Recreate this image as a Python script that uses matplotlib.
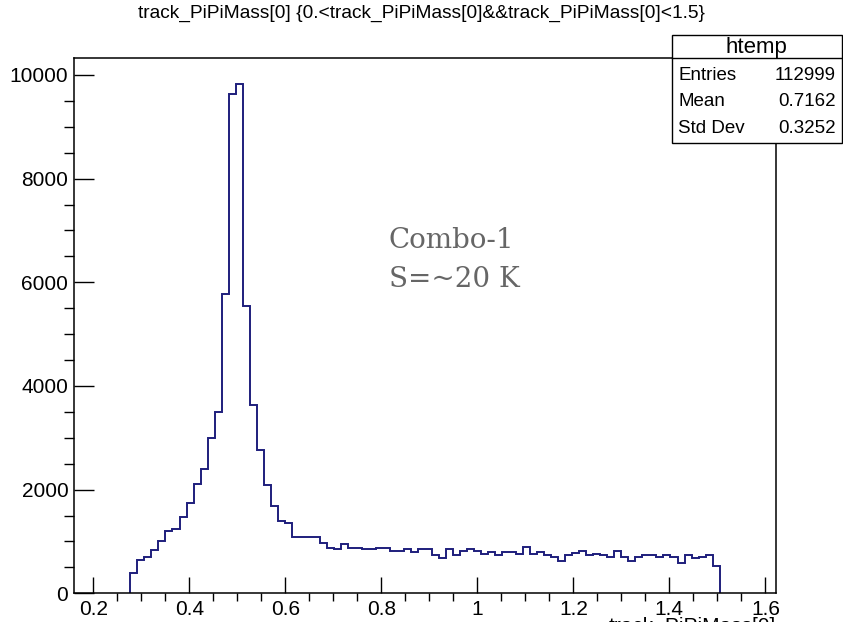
import matplotlib
matplotlib.use("Agg")
import matplotlib.pyplot as plt
import numpy as np
from matplotlib.ticker import MultipleLocator
from matplotlib.patches import Rectangle
from matplotlib.lines import Line2D

plt.rcParams['font.family'] = ['Liberation Sans', 'DejaVu Sans']

# histogram: 100 bins, only bins 8..91 are filled
x_min, x_max, n_bins = 0.1605, 1.6215, 100
first_bin = 8
counts = [400, 640, 700, 830, 1000, 1200, 1250, 1480, 1750, 2100,
          2390, 3000, 3500, 5770, 9640, 9830, 5540, 3640, 2760, 2080,
          1690, 1390, 1350, 1090, 1090, 1090, 1090, 964, 880, 848,
          950, 880, 880, 848, 848, 880, 880, 823, 823, 848,
          791, 848, 848, 739, 675, 848, 739, 823, 848, 823,
          765, 791, 733, 791, 791, 765, 900, 765, 791, 739,
          694, 630, 739, 771, 823, 739, 765, 739, 707, 823,
          694, 630, 707, 739, 739, 707, 739, 707, 591, 739,
          675, 694, 739, 534]

xtick_vals = [0.2, 0.4, 0.6, 0.8, 1.0, 1.2, 1.4, 1.6]
xtick_labels = ['0.2', '0.4', '0.6', '0.8', '1', '1.2', '1.4', '1.6']
ytick_vals = [0, 2000, 4000, 6000, 8000, 10000]

title = 'track_PiPiMass[0] {0.<track_PiPiMass[0]&&track_PiPiMass[0]<1.5}'
stats_name = 'htemp'
stats_rows = [('Entries', '112999'), ('Mean', '0.7162'), ('Std Dev', '0.3252')]

W, H = 843, 622
fig = plt.figure(figsize=(W / 100, H / 100), dpi=100)

def fx(px):
    return px / W

def fy(py):
    return 1 - py / H

left, right, top, bottom = 74.3, 775.7, 58.3, 593.3
ax = fig.add_axes([fx(left), fy(bottom), fx(right - left), (bottom - top) / H])

edges = np.linspace(x_min, x_max, n_bins + 1)
e = edges[first_bin:first_bin + len(counts) + 1]
ax.stairs(counts, e, baseline=0, color='#1e1e7c', lw=1.4)

ax.set_xlim(x_min, x_max)
ax.set_ylim(0, max(counts) * 1.05)
ax.set_xticks(xtick_vals)
ax.set_xticklabels(xtick_labels)
ax.set_yticks(ytick_vals)
ax.xaxis.set_minor_locator(MultipleLocator(0.05))
ax.yaxis.set_minor_locator(MultipleLocator(500))
ax.tick_params(axis='both', direction='in', labelsize=15, width=1.0, color='black')
ax.tick_params(axis='x', which='major', length=11.3, pad=5)
ax.tick_params(axis='x', which='minor', length=5.8, width=1.0)
ax.tick_params(axis='y', which='major', length=14.2, pad=4.3)
ax.tick_params(axis='y', which='minor', length=7, width=1.0)
for s in ax.spines.values():
    s.set_linewidth(1.1)

fig.text(0.5, fy(13), title, ha='center', va='center', fontsize=13.8)
# x axis title, mostly below the bottom edge as in the original
fig.text(fx(right), fy(617), 'track_PiPiMass[0]', ha='right', va='top', fontsize=15)

# stats box
bx0, bx1, by0, by1, byh = 671.7, 842.0, 35.0, 143.3, 58.3
fig.patches.append(Rectangle((fx(bx0), fy(by1)), fx(bx1 - bx0), (by1 - by0) / H,
                             transform=fig.transFigure, facecolor='white',
                             edgecolor='black', lw=1.0, zorder=5))
fig.lines.append(Line2D([fx(bx0), fx(bx1)], [fy(byh), fy(byh)],
                        transform=fig.transFigure, color='black', lw=1.0, zorder=6))
fig.text(fx((bx0 + bx1) / 2), fy(47.5), stats_name, ha='center', va='center',
         fontsize=16, zorder=7)
for i, (k, v) in enumerate(stats_rows):
    yy = fy(75 + i * 26.7)
    fig.text(fx(678.3), yy, k, ha='left', va='center', fontsize=13.5, zorder=7)
    fig.text(fx(835.7), yy, v, ha='right', va='center', fontsize=13.5, zorder=7)

fig.text(fx(389), fy(241), 'Combo-1', ha='left', va='center', fontsize=20,
         family='DejaVu Serif', color='#666666')
fig.text(fx(389), fy(279), 'S=~20 K', ha='left', va='center', fontsize=20,
         family='DejaVu Serif', color='#666666')

fig.savefig('out.png', dpi=100)
